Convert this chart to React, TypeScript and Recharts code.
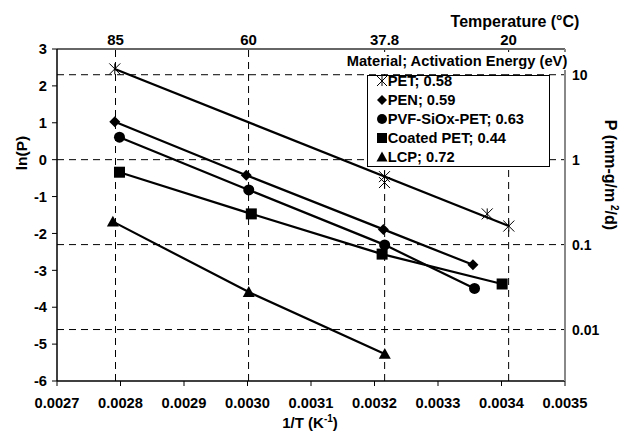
import React from 'react'
import { ComposedChart, Scatter, XAxis, YAxis, ReferenceLine, Legend, Label } from 'recharts'

const FONT = '"Liberation Sans", Arial, sans-serif'

// x = 1/T (K^-1), y = ln(P)
const petX = [0.002791, 0.0032157, 0.0032157, 0.0033775, 0.0034115]
const petY = [2.46, -0.46, -0.62, -1.47, -1.8]
const penX = [0.002791, 0.002998, 0.003214, 0.003355]
const penY = [1.03, -0.42, -1.89, -2.85]
const pvfX = [0.0027984, 0.003002, 0.003216, 0.0033575]
const pvfY = [0.61, -0.82, -2.31, -3.49]
const coatedX = [0.0027984, 0.003006, 0.003212, 0.003401]
const coatedY = [-0.34, -1.47, -2.56, -3.37]
const lcpX = [0.002788, 0.003002, 0.0032162]
const lcpY = [-1.68, -3.59, -5.27]

const seriesNames = ['PET; 0.58', 'PEN; 0.59', 'PVF-SiOx-PET; 0.63', 'Coated PET; 0.44', 'LCP; 0.72']

const bottomTicks = [0.0027, 0.0028, 0.0029, 0.003, 0.0031, 0.0032, 0.0033, 0.0034, 0.0035]
const lnTicks = [-6, -5, -4, -3, -2, -1, 0, 1, 2, 3]
const tempsC = [85, 60, 37.8, 20]
const pTicks = [10, 1, 0.1, 0.01]

const topTicks = tempsC.map((t) => 1 / (t + 273.15))
const rightTicks = pTicks.map((p) => Math.log(p))

const toPoints = (xs: number[], ys: number[]) => xs.map((x, i) => ({ x, y: ys[i] }))
const pet = toPoints(petX, petY)
const petFit = [pet[0], pet[pet.length - 1]]
const pen = toPoints(penX, penY)
const pvf = toPoints(pvfX, pvfY)
const coated = toPoints(coatedX, coatedY)
const lcp = toPoints(lcpX, lcpY)

// marker shapes
const Star = ({ cx, cy, s = 5.5 }: any) => (
  <g stroke="#000" strokeWidth={1}>
    <line x1={cx - s} y1={cy - s} x2={cx + s} y2={cy + s} />
    <line x1={cx - s} y1={cy + s} x2={cx + s} y2={cy - s} />
    <line x1={cx} y1={cy - s} x2={cx} y2={cy + s} />
  </g>
)
const Diamond = ({ cx, cy, s = 5.5 }: any) => (
  <polygon points={`${cx},${cy - s} ${cx + s},${cy} ${cx},${cy + s} ${cx - s},${cy}`} fill="#000" />
)
const Dot = ({ cx, cy, s = 5.5 }: any) => <circle cx={cx} cy={cy} r={s} fill="#000" />
const Square = ({ cx, cy, s = 5.5 }: any) => (
  <rect x={cx - s} y={cy - s} width={2 * s} height={2 * s} fill="#000" />
)
const Triangle = ({ cx, cy, s = 6 }: any) => (
  <polygon points={`${cx},${cy - s} ${cx + s},${cy + s * 0.8} ${cx - s},${cy + s * 0.8}`} fill="#000" />
)
const NoShape = () => <g />

const markers = [Star, Diamond, Dot, Square, Triangle]

const lineStyle = { stroke: '#000', strokeWidth: 2.2 }

function renderLegend() {
  return (
    <div style={{ fontFamily: FONT, fontWeight: 'bold', fontSize: 14.7, color: '#000' }}>
      <div style={{ background: '#fff', whiteSpace: 'nowrap', textAlign: 'center', lineHeight: '18px', height: 18 }}>
        Material; Activation Energy (eV)
      </div>
      <div
        style={{
          marginTop: 5,
          marginLeft: 21.7,
          width: 183.3,
          height: 91.7,
          boxSizing: 'border-box',
          border: '1px solid #000',
          background: '#fff',
        }}
      >
        <div style={{ position: 'relative', top: -4.5 }}>
          {seriesNames.map((name, i) => {
            const M = markers[i]
            return (
              <div key={name} style={{ display: 'flex', alignItems: 'center', height: 19, paddingLeft: 8, whiteSpace: 'nowrap' }}>
                <svg width={12} height={12} style={{ flex: 'none' }}>
                  <M cx={6} cy={6} s={i === 4 ? 5.5 : 5} />
                </svg>
                <span style={{ lineHeight: '19px' }}>{name}</span>
              </div>
            )
          })}
        </div>
      </div>
    </div>
  )
}

const tickStyle = { fontFamily: FONT, fontWeight: 'bold', fill: '#000' }
const titleProps = { fontFamily: FONT, fontWeight: 'bold', fill: '#000' }

export default function App() {
  return (
    <div style={{ position: 'absolute', left: 0, top: 0, width: 621, height: 435, background: '#fff' }}>
      <ComposedChart width={621} height={435} margin={{ top: 19, right: 0, bottom: 0, left: 0 }}>
        <XAxis
          xAxisId="bottom"
          type="number"
          dataKey="x"
          domain={[0.0027, 0.0035]}
          ticks={bottomTicks}
          tickFormatter={(v: number) => v.toFixed(4)}
          height={54}
          tickSize={5}
          tickMargin={12}
          fontSize={14.7}
          tick={tickStyle}
          axisLine={{ stroke: '#000', strokeWidth: 1.5 }}
          tickLine={{ stroke: '#000' }}
          allowDataOverflow
        >
          <Label
            content={() => (
              <text x={310} y={428} textAnchor="middle" fontSize={15} {...titleProps}>
                1/T (K
                <tspan fontSize={10} dy={-6}>-1</tspan>
                <tspan dy={6}>)</tspan>
              </text>
            )}
          />
        </XAxis>
        <XAxis
          xAxisId="top"
          orientation="top"
          type="number"
          dataKey="x"
          domain={[0.0027, 0.0035]}
          ticks={topTicks}
          tickFormatter={(v: number) => {
            const i = topTicks.findIndex((t) => Math.abs(t - v) < 1e-9)
            return i >= 0 ? String(tempsC[i]) : ''
          }}
          height={30}
          tickLine={false}
          tickSize={0}
          tickMargin={4}
          fontSize={15}
          tick={tickStyle}
          axisLine={{ stroke: '#333', strokeWidth: 1.5 }}
          allowDataOverflow
        >
          <Label
            content={() => (
              <text x={515} y={27} textAnchor="middle" fontSize={16} {...titleProps}>
                Temperature (°C)
              </text>
            )}
          />
        </XAxis>
        <YAxis
          yAxisId="left"
          type="number"
          dataKey="y"
          domain={[-6, 3]}
          ticks={lnTicks}
          width={57}
          tickSize={5}
          tickMargin={5}
          fontSize={14.7}
          tick={tickStyle}
          axisLine={{ stroke: '#000', strokeWidth: 1.5 }}
          tickLine={{ stroke: '#000' }}
          allowDataOverflow
        >
          <Label
            content={() => (
              <text x={27} y={153} textAnchor="middle" transform="rotate(-90 27 153)" fontSize={15.5} {...titleProps}>
                ln(P)
              </text>
            )}
          />
        </YAxis>
        <YAxis
          yAxisId="right"
          orientation="right"
          type="number"
          dataKey="y"
          domain={[-6, 3]}
          ticks={rightTicks}
          tickFormatter={(v: number) => {
            const i = rightTicks.findIndex((t) => Math.abs(t - v) < 1e-9)
            return i >= 0 ? String(pTicks[i]) : ''
          }}
          width={56}
          tickLine={false}
          tickSize={0}
          tickMargin={7}
          fontSize={14}
          tick={tickStyle}
          axisLine={{ stroke: '#888', strokeWidth: 2 }}
          allowDataOverflow
        >
          <Label
            content={() => (
              <text x={605} y={175} textAnchor="middle" transform="rotate(90 605 175)" fontSize={16} {...titleProps}>
                P (mm-g/m
                <tspan fontSize={10} dy={-6}> 2</tspan>
                <tspan dy={6}>/d)</tspan>
              </text>
            )}
          />
        </YAxis>

        {topTicks.map((t) => (
          <ReferenceLine key={'v' + t} xAxisId="bottom" yAxisId="left" x={t} stroke="#000" strokeDasharray="7 5" />
        ))}
        {rightTicks.map((t) => (
          <ReferenceLine key={'h' + t} xAxisId="bottom" yAxisId="left" y={t} stroke="#000" strokeDasharray="7 5" />
        ))}

        <Scatter data={petFit} xAxisId="bottom" yAxisId="left" line={lineStyle} lineType="joint" shape={NoShape} isAnimationActive={false} />
        <Scatter data={pen} xAxisId="bottom" yAxisId="left" line={lineStyle} lineType="joint" shape={Diamond} isAnimationActive={false} />
        <Scatter data={pvf} xAxisId="bottom" yAxisId="left" line={lineStyle} lineType="joint" shape={Dot} isAnimationActive={false} />
        <Scatter data={coated} xAxisId="bottom" yAxisId="left" line={lineStyle} lineType="joint" shape={Square} isAnimationActive={false} />
        <Scatter data={lcp} xAxisId="bottom" yAxisId="left" line={lineStyle} lineType="joint" shape={Triangle} isAnimationActive={false} />
        <Scatter data={pet} xAxisId="bottom" yAxisId="left" shape={Star} isAnimationActive={false} />

        <Legend
          content={renderLegend}
          layout="vertical"
          align="center"
          verticalAlign="middle"
          wrapperStyle={{ left: 345, top: 52, width: 224 }}
        />
      </ComposedChart>
    </div>
  )
}
